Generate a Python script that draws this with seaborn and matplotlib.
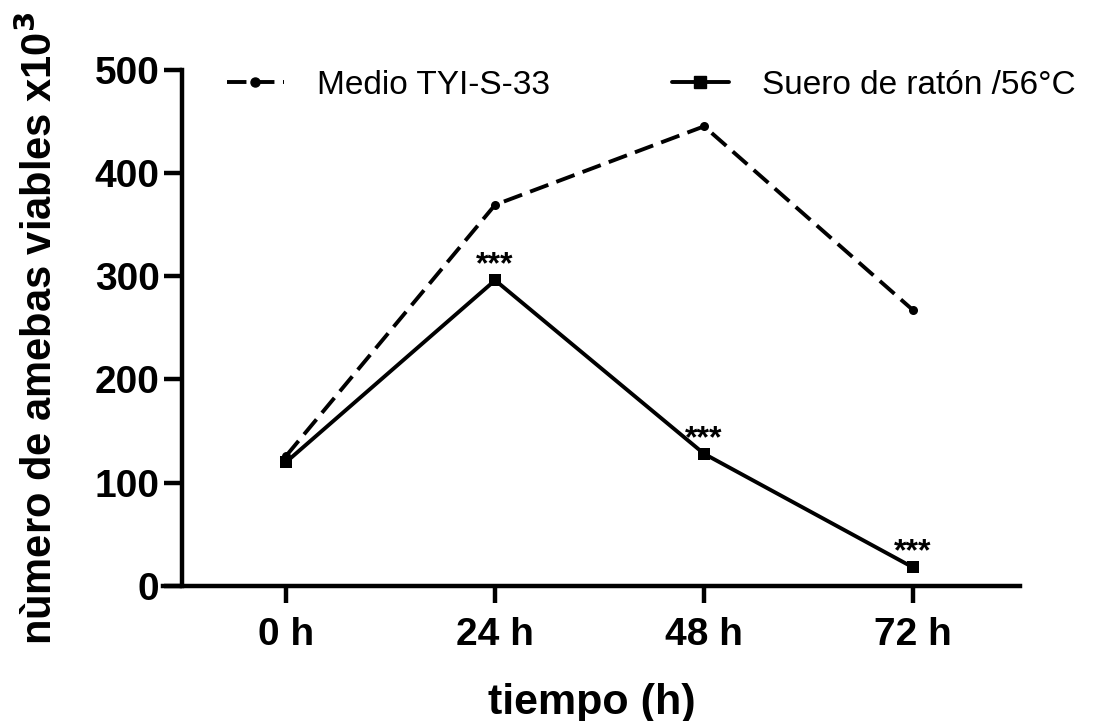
import pandas as pd
import numpy as np
import matplotlib
matplotlib.use("Agg")
import matplotlib.pyplot as plt
import seaborn as sns
from matplotlib.lines import Line2D

# data
tiempos = ["0 h", "24 h", "48 h", "72 h"]
medio_tyi = [126, 369, 445, 267]
suero_raton = [120, 296, 128, 18]
signif = ["", "***", "***", "***"]
series_names = ["Medio TYI-S-33", "Suero de ratón /56°C"]

df = pd.DataFrame({
    "pos": list(range(len(tiempos))) * 2,
    "valor": medio_tyi + suero_raton,
    "serie": [series_names[0]] * 4 + [series_names[1]] * 4,
})

sns.set_style("ticks")
plt.rcParams['font.family'] = ['Liberation Sans', 'DejaVu Sans']
plt.rcParams['text.color'] = 'black'
plt.rcParams['axes.labelcolor'] = 'black'
plt.rcParams['xtick.color'] = 'black'
plt.rcParams['ytick.color'] = 'black'
plt.rcParams['axes.edgecolor'] = 'black'

LW = 2.8
DASH = (5, 2.2)

fig = plt.figure(figsize=(11.19, 7.21), dpi=100)
ax = fig.add_axes([0.1457, 0.1872, 0.7659, 0.7164])

sns.lineplot(data=df, x="pos", y="valor", hue="serie", style="serie",
             palette={series_names[0]: "black", series_names[1]: "black"},
             dashes={series_names[0]: DASH, series_names[1]: ""},
             markers={series_names[0]: "o", series_names[1]: "s"},
             markersize=8, linewidth=LW, markeredgewidth=0,
             legend=False, ax=ax)
ax.lines[0].set_markersize(6.5)

# significance stars above the serum series
for i, s in enumerate(signif):
    if s:
        ax.annotate(s, (i, suero_raton[i]), xytext=(0, 5), textcoords="offset points",
                    ha="center", va="baseline", fontsize=23, fontweight="bold")

ax.set_xlim(-0.589, 3.512)
ax.set_ylim(0, 500)
ax.set_xticks(range(len(tiempos)))
ax.set_xticklabels(tiempos)
ax.set_yticks([0, 100, 200, 300, 400, 500])

sns.despine(ax=ax)
ax.spines["left"].set_position(("data", -0.499))
ax.spines["left"].set_linewidth(3.2)
ax.spines["bottom"].set_linewidth(3.2)
ax.tick_params(axis="y", length=13, width=3.2, pad=3, labelsize=28)
ax.tick_params(axis="x", length=12, width=3.2, pad=10, labelsize=28)
for lab in ax.get_xticklabels() + ax.get_yticklabels():
    lab.set_fontweight("bold")

ax.set_xlabel("tiempo (h)", fontsize=31, fontweight="bold")
ax.xaxis.set_label_coords(0.5, -0.187)
ax.set_ylabel("nùmero de amebas viables x10$^\\mathbf{3}$", fontsize=30,
              fontweight="bold")
ax.yaxis.set_label_coords(-0.119, 0.5)

handles = [
    Line2D([], [], color="black", linestyle=(0, DASH), linewidth=LW,
           marker="o", markersize=6.5, dash_capstyle="butt"),
    Line2D([], [], color="black", linestyle="-", linewidth=LW,
           marker="s", markersize=8),
]
ax.legend(handles, series_names, loc="center left", bbox_to_anchor=(0.0747, 0.970),
          ncol=2, frameon=False, fontsize=24, handlelength=1.7,
          columnspacing=3.66, handletextpad=1.0, borderpad=0, borderaxespad=0)

fig.savefig("out.png", dpi=100)
